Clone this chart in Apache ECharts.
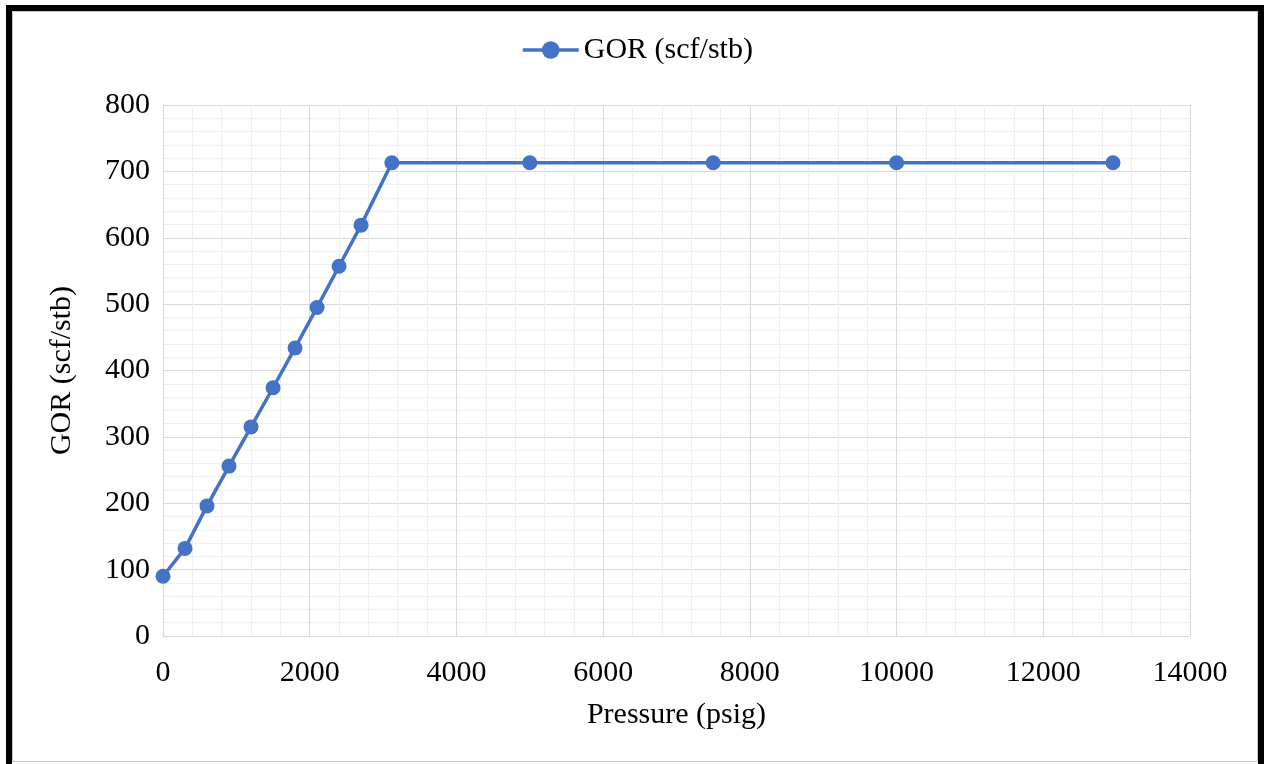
<!DOCTYPE html>
<html>
<head>
<meta charset="utf-8">
<script src="https://cdn.jsdelivr.net/npm/echarts@6/dist/echarts.min.js"></script>
<style>
  html, body { margin: 0; padding: 0; background: #fff; }
  #chart { width: 1265px; height: 764px; }
</style>
</head>
<body>
<div id="chart"></div>
<script>
// Gas-oil ratio versus pressure
const pressure = [0, 300, 600, 900, 1200, 1500, 1800, 2100, 2400, 2700, 3120, 5000, 7500, 10000, 12950];
const gor = [90, 132, 196, 256, 315, 374, 434, 495, 557, 619, 713, 713, 713, 713, 713];
const seriesName = 'GOR (scf/stb)';
const xTitle = 'Pressure (psig)';
const yTitle = 'GOR (scf/stb)';

const points = pressure.map((p, i) => [p, gor[i]]);
const serif = '"Liberation Serif", "Times New Roman", serif';
const blue = '#4472C4';
const fs = 30;

const chart = echarts.init(document.getElementById('chart'), null, { renderer: 'canvas' });
chart.setOption({
  backgroundColor: '#ffffff',
  animation: false,
  textStyle: { fontFamily: serif, color: '#000' },
  graphic: [
    { type: 'rect', shape: { x: 9, y: 8, width: 1252, height: 770 },
      style: { fill: 'none', stroke: '#000', lineWidth: 6 }, z: 0 },
    { type: 'rect', shape: { x: 12.5, y: 11.5, width: 1245, height: 750 },
      style: { fill: 'none', stroke: '#c8c8c8', lineWidth: 1 }, z: 0 }
  ],
  legend: {
    top: 30,
    left: 516,
    itemWidth: 56,
    itemHeight: 22,
    itemGap: 10,
    lineStyle: { width: 3.5, color: blue },
    itemStyle: { color: blue },
    textStyle: { fontFamily: serif, fontSize: fs, color: '#000' },
    data: [seriesName]
  },
  grid: { left: 163, right: 75, top: 105, bottom: 128, containLabel: false },
  xAxis: {
    type: 'value',
    min: 0, max: 14000, interval: 2000,
    name: xTitle,
    nameLocation: 'middle',
    nameGap: 64,
    nameTextStyle: { fontFamily: serif, fontSize: fs, color: '#000' },
    axisLine: { show: true, lineStyle: { color: '#d9d9d9', width: 1 } },
    axisTick: { show: false },
    axisLabel: { fontFamily: serif, fontSize: fs, color: '#000', margin: 22, formatter: v => String(v) },
    splitLine: { show: true, lineStyle: { color: '#d9d9d9', width: 1 } },
    minorTick: { show: false, splitNumber: 5 },
    minorSplitLine: { show: true, lineStyle: { color: '#efefef', width: 1 } }
  },
  yAxis: {
    type: 'value',
    min: 0, max: 800, interval: 100,
    name: yTitle,
    nameLocation: 'middle',
    nameGap: 86,
    nameRotate: 90,
    nameTextStyle: { fontFamily: serif, fontSize: fs, color: '#000' },
    axisLine: { show: true, lineStyle: { color: '#d9d9d9', width: 1 } },
    axisTick: { show: false },
    axisLabel: { fontFamily: serif, fontSize: fs, color: '#000', margin: 13, formatter: v => String(v) },
    splitLine: { show: true, lineStyle: { color: '#d9d9d9', width: 1 } },
    minorTick: { show: false, splitNumber: 5 },
    minorSplitLine: { show: true, lineStyle: { color: '#efefef', width: 1 } }
  },
  series: [{
    name: seriesName,
    type: 'line',
    data: points,
    symbol: 'circle',
    symbolSize: 15,
    lineStyle: { color: blue, width: 3.5 },
    itemStyle: { color: blue }
  }]
});
</script>
</body>
</html>
